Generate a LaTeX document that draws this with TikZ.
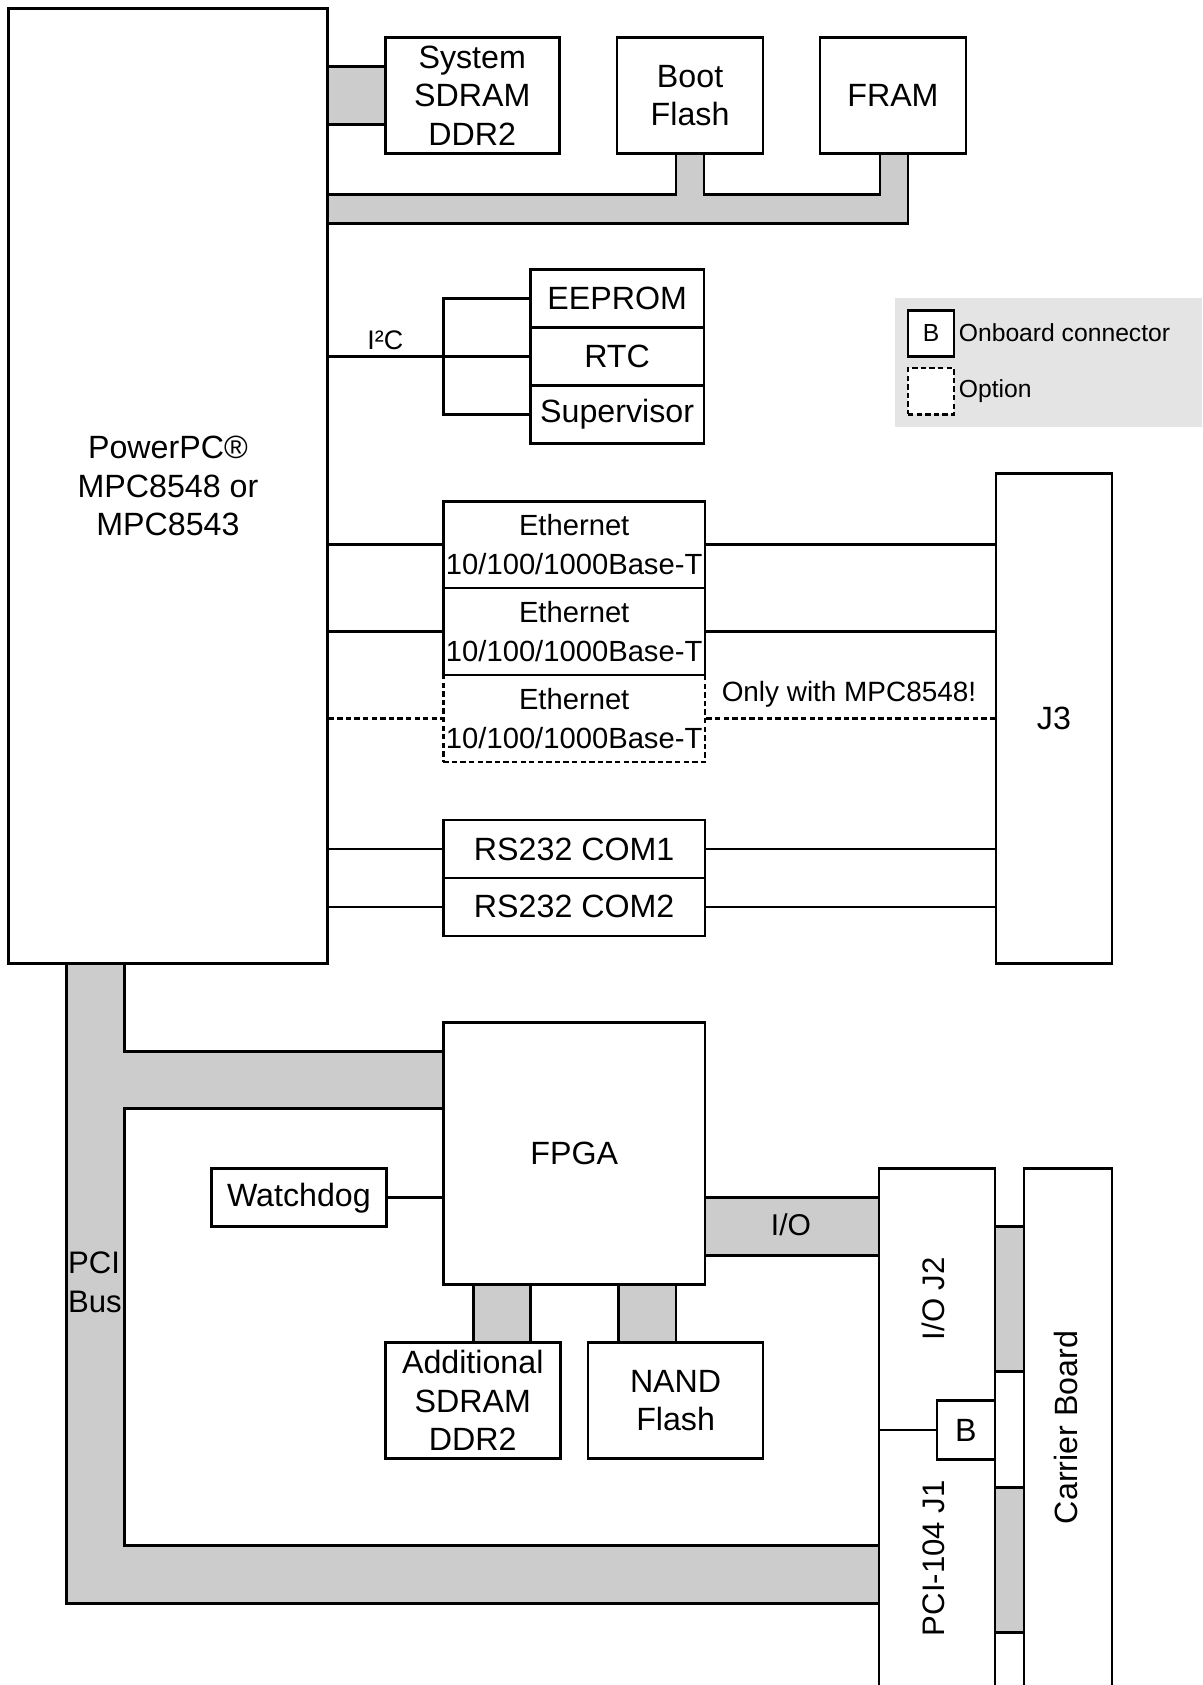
\documentclass[tikz,border=0pt]{standalone}
\usepackage{fontspec}
\setmainfont{Liberation Sans}
\usetikzlibrary{backgrounds}
\definecolor{busgray}{HTML}{CCCCCC}
\definecolor{leggray}{HTML}{E4E4E4}
\begin{document}
\begin{tikzpicture}[x=0.5pt,y=-0.5pt,
  box/.style={draw, line width=1.25pt, fill=white, inner sep=0pt, align=center, font=\fontsize{15}{18}\selectfont},
  ethbox/.style={box, font=\fontsize{13.6}{18}\selectfont},
  bus/.style={draw, line width=1.25pt, fill=busgray},
  wire/.style={line width=1.25pt},
  opt/.style={dash pattern=on 2.5pt off 1.5pt},
  lab/.style={inner sep=0pt, font=\fontsize{15}{18}\selectfont}]
\useasboundingbox (0,0) rectangle (1120,1570);
% main CPU
\node[box, minimum width=148.5pt, minimum height=445pt] (cpu) at (156.5,453) {PowerPC®\\MPC8548 or\\MPC8543};
% memories on top
\node[box, minimum width=81pt, minimum height=54pt] (sdram) at (440,89) {System\\SDRAM\\DDR2};
\node[box, minimum width=68pt, minimum height=54pt] (boot) at (643,89) {Boot\\Flash};
\node[box, minimum width=68pt, minimum height=54pt] (fram) at (832,89) {FRAM};
% I2C devices
\node[box, minimum width=81pt, minimum height=27pt] (eeprom) at (575,278) {EEPROM};
\node[box, minimum width=81pt, minimum height=27pt] (rtc) at (575,332) {RTC};
\node[box, minimum width=81pt, minimum height=27pt] (sup) at (575,386) {Supervisor};
\coordinate (i2cj) at (413,332);
\draw[wire] (cpu.east |- rtc.west) -- (rtc.west);
\draw[wire] (eeprom.west) -- (eeprom.west -| i2cj) -- (sup.west -| i2cj) -- (sup.west);
\node[inner sep=0pt, font=\fontsize{12.5}{14}\selectfont] (i2clab) at (359,317) {I²C};
% legend
\node[fill=leggray, inner sep=0pt, minimum width=143pt, minimum height=60pt] (legend) at (977,338) {};
\node[box, font=\fontsize{11.5}{13}\selectfont, minimum width=21.5pt, minimum height=21.5pt] (legB) at (867.5,310.5) {B};
\node[box, opt, minimum width=21.5pt, minimum height=21.5pt] (legO) at (867.5,364.5) {};
\node[anchor=west, inner sep=0pt, font=\fontsize{11.5}{13}\selectfont] (legBt) at (893,310) {Onboard connector};
\node[anchor=west, inner sep=0pt, font=\fontsize{11.5}{13}\selectfont] (legOt) at (893,364) {Option};
% J3 and interfaces
\node[box, minimum width=54pt, minimum height=228.5pt] (j3) at (982,669.5) {J3};
\node[ethbox, opt, minimum width=122pt, minimum height=40.5pt] (eth3) at (535,669.5) {Ethernet\\10/100/1000Base-T};
\node[ethbox, minimum width=122pt, minimum height=40.5pt] (eth1) at (535,507.5) {Ethernet\\10/100/1000Base-T};
\node[ethbox, minimum width=122pt, minimum height=40.5pt] (eth2) at (535,588.5) {Ethernet\\10/100/1000Base-T};
\node[box, minimum width=122pt, minimum height=27pt] (com1) at (535,791) {RS232 COM1};
\node[box, minimum width=122pt, minimum height=27pt] (com2) at (535,845) {RS232 COM2};
\foreach \n in {eth1,eth2,com1,com2}{
  \draw[wire] (cpu.east |- \n.west) -- (\n.west);
  \draw[wire] (\n.east) -- (j3.west |- \n.east);
}
\draw[wire, opt] (cpu.east |- eth3.west) -- (eth3.west);
\draw[wire, opt] (eth3.east) -- (j3.west |- eth3.east);
\node[inner sep=0pt, font=\fontsize{13}{15}\selectfont] (onlylab) at (791,647) {Only with MPC8548!};
% lower part
\node[box, minimum width=122pt, minimum height=122pt] (fpga) at (535,1075) {FPGA};
\node[box, minimum width=81.5pt, minimum height=27pt] (wdog) at (278.5,1116) {Watchdog};
\draw[wire] (wdog.east) -- (fpga.west |- wdog.east);
\node[box, minimum width=81.5pt, minimum height=54pt] (asdram) at (440.5,1305) {Additional\\SDRAM\\DDR2};
\node[box, minimum width=81.5pt, minimum height=54pt] (nand) at (629.5,1305) {NAND\\Flash};
\node[box, minimum width=54pt, minimum height=280.5pt] (iocol) at (873,1369.5) {};
\node[box, minimum width=41pt, minimum height=280.5pt] (carrier) at (995,1369.5) {};
\node[box, minimum width=27pt, minimum height=27.5pt] (bcon) at (900,1332.5) {B};
\draw[wire] (iocol.west |- bcon.west) -- (bcon.west);
\node[lab, rotate=90, font=\fontsize{14.5}{18}\selectfont] (j2lab) at (870,1210) {I/O J2};
\node[lab, rotate=90, font=\fontsize{14.5}{18}\selectfont] (j1lab) at (870,1452) {PCI-104 J1};
\node[lab, rotate=90] (cblab) at (993,1330) {Carrier Board};
\node[inner sep=0pt, font=\fontsize{14}{18}\selectfont] (iolab) at (737,1141) {I/O};
\node[anchor=west, align=left, inner sep=0pt, font=\fontsize{14.5}{18}\selectfont] (pcilab) at (63,1195) {PCI\\Bus};
% buses
\begin{scope}[on background layer]
\draw[bus] (305,62) rectangle (359,116);
\draw[bus] (305,181) -- (630,181) -- (630,143) -- (656,143) -- (656,181) -- (820,181) -- (820,143) -- (846,143) -- (846,208) -- (305,208) -- cycle;
\draw[bus] (62,898) -- (62,1494) -- (819,1494) -- (819,1440) -- (116,1440) -- (116,1033) -- (413,1033) -- (413,980) -- (116,980) -- (116,898) -- cycle;
\draw[bus] (657,1116) rectangle (819,1170);
\draw[bus] (441,1197) rectangle (494,1251);
\draw[bus] (576,1197) rectangle (630,1251);
\draw[bus] (927,1143) rectangle (954,1278);
\draw[bus] (927,1386) rectangle (954,1521);
\end{scope}
\end{tikzpicture}
\end{document}
